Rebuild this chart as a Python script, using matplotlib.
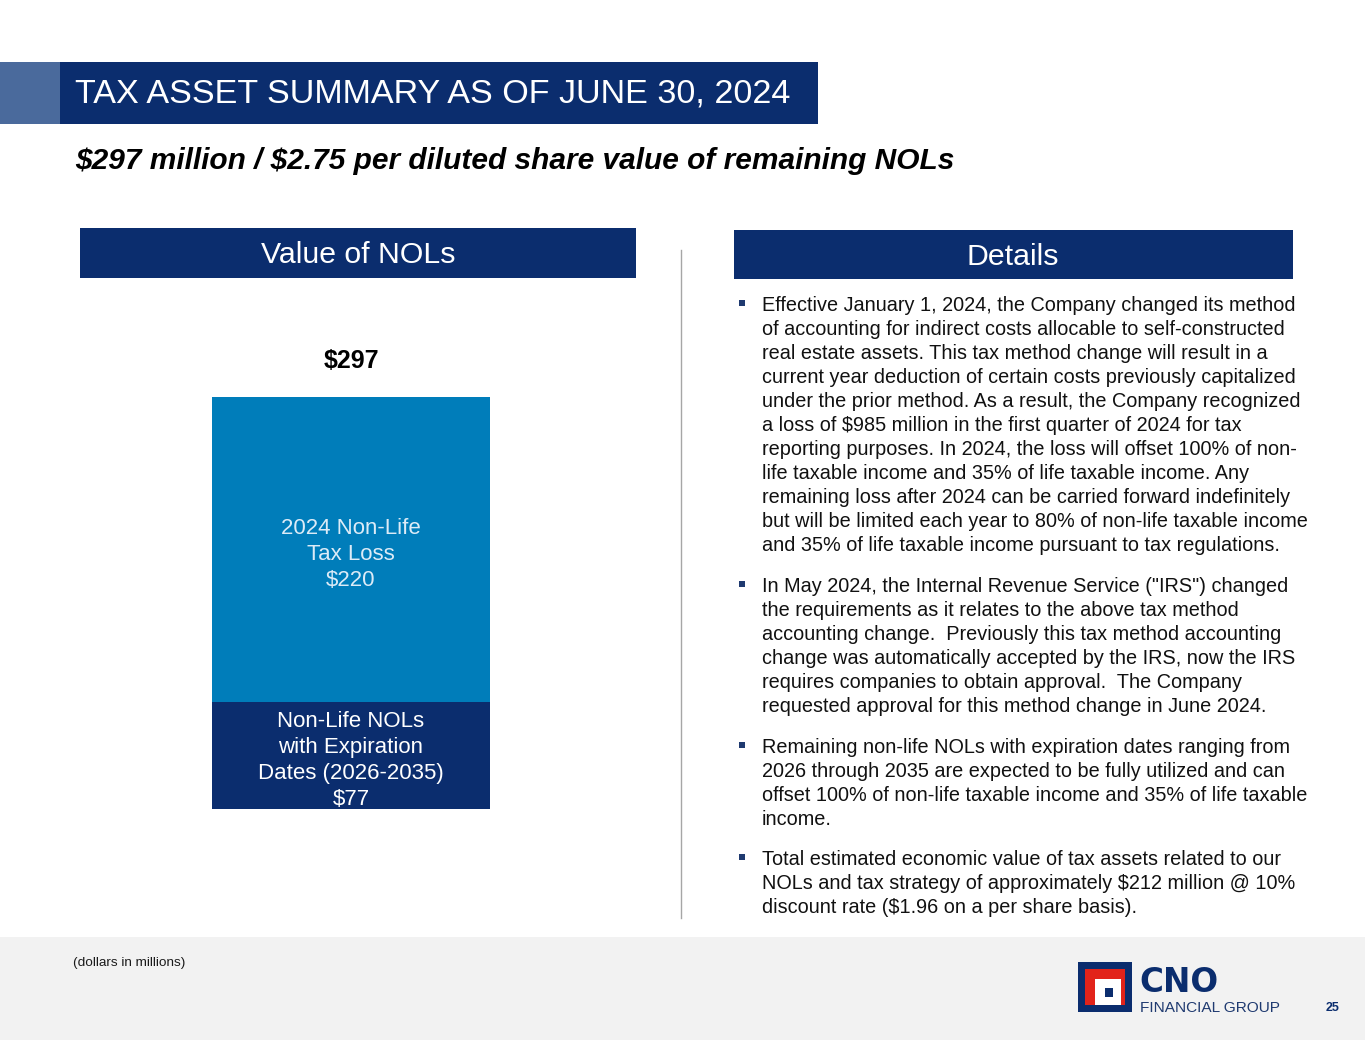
import matplotlib
matplotlib.use("Agg")
import matplotlib.pyplot as plt
from matplotlib.patches import Rectangle
import numpy as np

# ---- data ----
segment_names = ["Non-Life NOLs\nwith Expiration\nDates (2026-2035)", "2024 Non-Life\nTax Loss"]
segment_values = [77, 220]
segment_colors = ["#0B2D6E", "#007DBA"]
segment_text_colors = ["#FFFFFF", "#DCEBF7"]

title = "TAX ASSET SUMMARY AS OF JUNE 30, 2024"
subtitle = "$297 million / $2.75 per diluted share value of remaining NOLs"
left_header = "Value of NOLs"
right_header = "Details"
footnote = "(dollars in millions)"
page_no = "25"

paragraphs = [
    ["Effective January 1, 2024, the Company changed its method",
     "of accounting for indirect costs allocable to self-constructed",
     "real estate assets. This tax method change will result in a",
     "current year deduction of certain costs previously capitalized",
     "under the prior method. As a result, the Company recognized",
     "a loss of $985 million in the first quarter of 2024 for tax",
     "reporting purposes. In 2024, the loss will offset 100% of non-",
     "life taxable income and 35% of life taxable income. Any",
     "remaining loss after 2024 can be carried forward indefinitely",
     "but will be limited each year to 80% of non-life taxable income",
     "and 35% of life taxable income pursuant to tax regulations."],
    ["In May 2024, the Internal Revenue Service (\"IRS\") changed",
     "the requirements as it relates to the above tax method",
     "accounting change.  Previously this tax method accounting",
     "change was automatically accepted by the IRS, now the IRS",
     "requires companies to obtain approval.  The Company",
     "requested approval for this method change in June 2024."],
    ["Remaining non-life NOLs with expiration dates ranging from",
     "2026 through 2035 are expected to be fully utilized and can",
     "offset 100% of non-life taxable income and 35% of life taxable",
     "income."],
    ["Total estimated economic value of tax assets related to our",
     "NOLs and tax strategy of approximately $212 million @ 10%",
     "discount rate ($1.96 on a per share basis)."],
]
para_baselines = [311, 592, 753, 865]

NAVY = "#0B2D6E"
FONT = ["Liberation Sans", "DejaVu Sans"]
NARROW = ["Liberation Sans Narrow", "Liberation Sans", "DejaVu Sans"]

W, H = 1365, 1055
fig = plt.figure(figsize=(W / 100, H / 100), dpi=100)
fig.patch.set_facecolor("white")

# background axes in pixel coordinates
bg = fig.add_axes([0, 0, 1, 1])
bg.set_xlim(0, W)
bg.set_ylim(H, 0)
bg.axis("off")

def rect(x0, y0, x1, y1, color, **kw):
    bg.add_patch(Rectangle((x0, y0), x1 - x0, y1 - y0, facecolor=color, edgecolor="none", **kw))

def txt(x, y, s, **kw):
    kw.setdefault("family", FONT)
    bg.text(x, y, s, parse_math=False, **kw)

# title bar
rect(0, 62, 60, 124, "#4A6A9C")
rect(60, 62, 818, 124, NAVY)
txt(75, 94, title, color="white", fontsize=24.6, va="center", ha="left", family=NARROW)

# subtitle
txt(75, 161, subtitle, color="black", fontsize=21.5, fontweight="bold", fontstyle="italic",
    va="center", ha="left")

# section headers
rect(80, 228, 636, 278, NAVY)
txt(358, 255, left_header, color="white", fontsize=21.8, ha="center", va="center")
rect(734, 230, 1293, 279, NAVY)
txt(1013, 257, right_header, color="white", fontsize=21.8, ha="center", va="center")

# divider
bg.plot([681, 681], [250, 918], color="#A6A6A6", lw=1)

# bullets
for para, base in zip(paragraphs, para_baselines):
    for i, line in enumerate(para):
        y = base + 24 * i
        if i == 0:
            rect(739, y - 11, 745, y - 5, "#1F3A70")
        txt(762, y, line, color="#111111", fontsize=14.3, ha="left", va="baseline")

# footer
rect(0, 937, W, 1040, "#F2F2F2")
txt(73, 963, footnote, color="#1A1A1A", fontsize=9.7, ha="left", va="center")

# logo
rect(1078, 962, 1132, 1012, NAVY)
rect(1085, 969, 1125, 1005, "#E2231A")
rect(1095, 979, 1121, 1005, "white")
rect(1105, 988, 1113, 997, NAVY)
txt(1139, 983, "CNO", color=NAVY, fontsize=23.5, fontweight="bold", ha="left", va="center",
    family=["DejaVu Sans"])
txt(1140, 1008, "FINANCIAL GROUP", color="#1F3A70", fontsize=11.1, ha="left", va="center")
txt(1333, 1008, page_no, color=NAVY, fontsize=9, fontweight="bold", ha="center", va="center")

# ---- stacked bar ----
bar_left, bar_right, bar_top, bar_bottom = 212, 490, 397, 809
total = sum(segment_values)
ax = fig.add_axes([bar_left / W, 1 - bar_bottom / H, (bar_right - bar_left) / W,
                   (bar_bottom - bar_top) / H])
ax.set_xlim(-0.5, 0.5)
ax.set_ylim(0, total)
ax.axis("off")
bottom = 0
for name, val, col, tcol in zip(segment_names, segment_values, segment_colors, segment_text_colors):
    ax.bar(0, val, width=1.0, bottom=bottom, color=col, edgecolor="none")
    ax.annotate(f"{name}\n${val}", xy=(0, bottom + val / 2), xytext=(0, -3.6),
                textcoords="offset points", ha="center", va="center", color=tcol,
                fontsize=16, family=FONT, linespacing=1.3, parse_math=False,
                annotation_clip=False)
    bottom += val
ax.annotate(f"${total}", xy=(0, total), xytext=(0, 26), textcoords="offset points",
            ha="center", va="center", fontsize=18, fontweight="bold", color="black",
            family=FONT, annotation_clip=False, parse_math=False)

fig.savefig("out.png", dpi=100, facecolor="white")
